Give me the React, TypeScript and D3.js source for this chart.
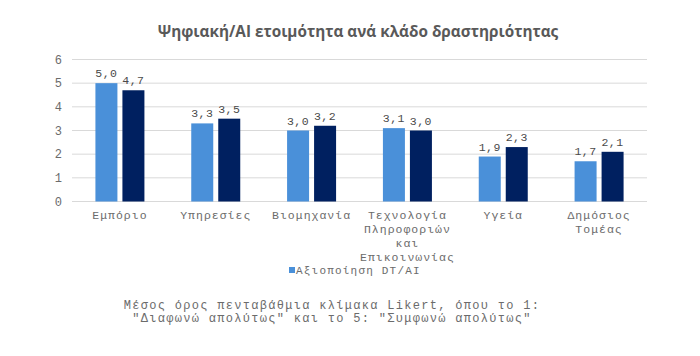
import React from "react";
import * as d3 from "d3";

const categories = [
  ["Εμπόριο"],
  ["Υπηρεσίες"],
  ["Βιομηχανία"],
  ["Τεχνολογία", "Πληροφοριών", "και", "Επικοινωνίας"],
  ["Υγεία"],
  ["Δημόσιος", "Τομέας"],
];
const seriesA = [5.0, 3.3, 3.0, 3.1, 1.9, 1.7];
const seriesB = [4.7, 3.5, 3.2, 3.0, 2.3, 2.1];
const yTicks = [0, 1, 2, 3, 4, 5, 6];
const title = "Ψηφιακή/AI ετοιμότητα ανά κλάδο δραστηριότητας";
const legendLabel = "Αξιοποίηση DT/AI";
const footnote = [
  "Μέσος όρος πενταβάθμια κλίμακα Likert, όπου το 1:",
  "\"Διαφωνώ απολύτως\" και το 5: \"Συμφωνώ απολύτως\"",
];

const W = 700;
const H = 356;
const colorA = "#4a90d9";
const colorB = "#002060";
const mono = "'Liberation Mono', 'Courier New', monospace";
const txt = "#6b6b6b";

export default function App() {
  const keys = categories.map((c) => c.join(" "));
  const x = d3.scaleBand<string>().domain(keys).range([72, 647]);
  const y = d3.scaleLinear().domain([0, 6]).range([201.5, 59.5]);
  const barW = 22;
  const gap = 5;
  const fmt = (v: number) => v.toFixed(1).replace(".", ",");

  return (
    <svg width={W} height={H} style={{ position: "absolute", left: 0, top: 0 }}>
      <rect width={W} height={H} fill="#fff" />
      <text x={358} y={37} textAnchor="middle" fontFamily="'Open Sans', sans-serif" fontWeight={700} fontSize={15.3} fill="#595959">
        {title}
      </text>
      {yTicks.map((t) => (
        <g key={t}>
          <line x1={72} x2={647} y1={y(t)} y2={y(t)} stroke="#d9d9d9" strokeWidth={1} />
          <text x={62} y={y(t) + 4} textAnchor="end" fontFamily={mono} fontSize={12} fill={txt}>
            {t}
          </text>
        </g>
      ))}
      {keys.map((k, i) => {
        const cx = (x(k) as number) + x.bandwidth() / 2;
        const xa = cx - gap / 2 - barW;
        const xb = cx + gap / 2;
        return (
          <g key={k}>
            <rect x={xa} y={y(seriesA[i])} width={barW} height={y(0) - y(seriesA[i])} fill={colorA} />
            <rect x={xb} y={y(seriesB[i])} width={barW} height={y(0) - y(seriesB[i])} fill={colorB} />
            <text x={xa + barW / 2} y={y(seriesA[i]) - 6} textAnchor="middle" fontFamily={mono} fontSize={11.5} letterSpacing={0.5} fill="#4a4a4a">
              {fmt(seriesA[i])}
            </text>
            <text x={xb + barW / 2} y={y(seriesB[i]) - 6} textAnchor="middle" fontFamily={mono} fontSize={11.5} letterSpacing={0.5} fill="#4a4a4a">
              {fmt(seriesB[i])}
            </text>
            {categories[i].map((line, j) => (
              <text key={j} x={cx} y={219 + j * 14} textAnchor="middle" fontFamily={mono} fontSize={11.5} letterSpacing={1} fill={txt}>
                {line}
              </text>
            ))}
          </g>
        );
      })}
      <rect x={289} y={267} width={6} height={6} fill={colorA} />
      <text x={296} y={274} fontFamily={mono} fontSize={11} letterSpacing={1.2} fill={txt}>
        {legendLabel}
      </text>
      {footnote.map((l, i) => (
        <text key={i} x={332} y={309 + i * 13} textAnchor="middle" fontFamily={mono} fontSize={12} letterSpacing={1.3} fill={txt}>
          {l}
        </text>
      ))}
    </svg>
  );
}
